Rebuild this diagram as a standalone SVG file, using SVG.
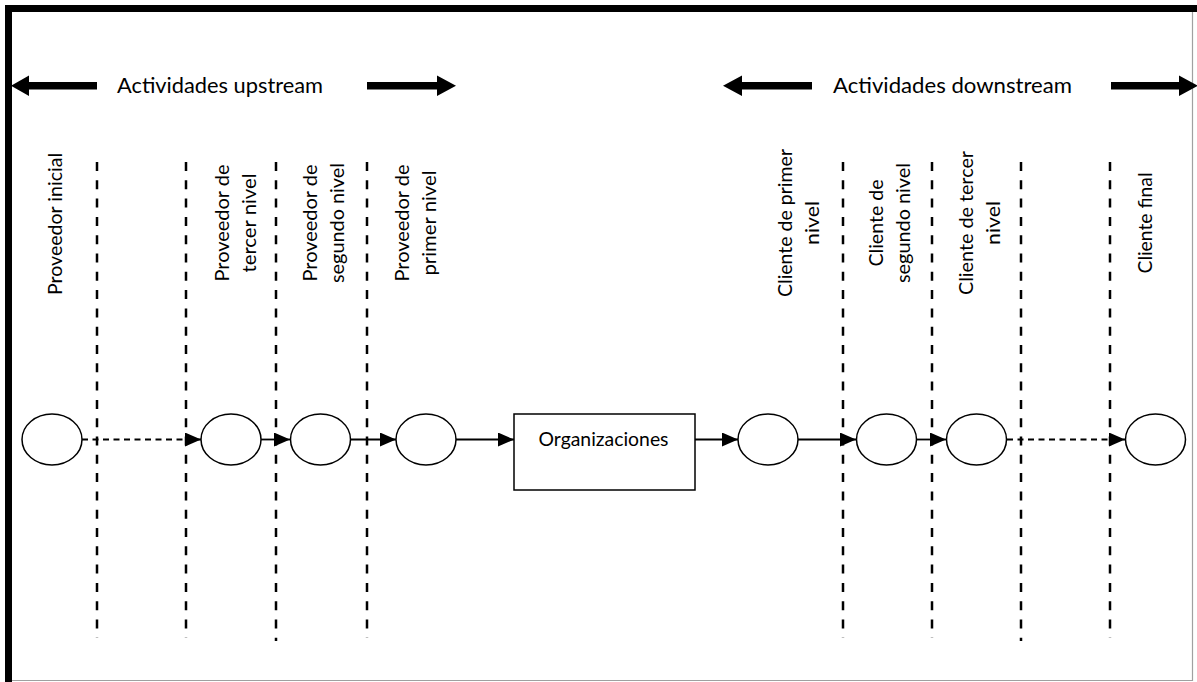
<svg xmlns="http://www.w3.org/2000/svg" width="1197" height="682" viewBox="0 0 1197 682">
  <style>
    .lbl { font-family: Lato, "Liberation Sans", sans-serif; font-size: 20px; fill: #000; }
    .hdr { font-family: Lato, "Liberation Sans", sans-serif; font-size: 22px; fill: #000; }
    .divider { stroke: #000; stroke-width: 2.5; stroke-dasharray: 9 9.3; fill: none; }
    .node { fill: #fff; stroke: #000; stroke-width: 1.5; }
    .link { stroke: #000; stroke-width: 1.8; fill: none; marker-end: url(#tip); }
    .link.dashed { stroke-dasharray: 6 4.5; }
    .block { fill: #000; }
  </style>
  <defs>
    <marker id="tip" markerUnits="userSpaceOnUse" markerWidth="16" markerHeight="14" refX="16" refY="7" orient="auto">
      <path d="M0,0 L16,7 L0,14 z" fill="#000"/>
    </marker>
  </defs>

  <rect x="0" y="0" width="1197" height="682" fill="#fff"/>

  <!-- frame: heavy top/left edges, light right/bottom edges -->
  <g id="frame">
    <path d="M1192.5,12 V680.5 H12" fill="none" stroke="#a0a0a0" stroke-width="1.2"/>
    <path d="M8.5,682 V8.5 H1197" fill="none" stroke="#000" stroke-width="7"/>
  </g>

  <!-- section headers with block arrows -->
  <g id="upstream-header">
    <polygon class="block" points="11,85.75 29,75.5 29,82 97,82 97,89.5 29,89.5 29,96"/>
    <polygon class="block" points="367,82 437,82 437,75.5 456,85.75 437,96 437,89.5 367,89.5"/>
    <text class="hdr" x="117" y="93" textLength="206" lengthAdjust="spacingAndGlyphs">Actividades upstream</text>
  </g>
  <g id="downstream-header">
    <polygon class="block" points="723,85.75 742,75.5 742,82 812,82 812,89.5 742,89.5 742,96"/>
    <polygon class="block" points="1111,82 1179,82 1179,75.5 1198,85.75 1179,96 1179,89.5 1111,89.5"/>
    <text class="hdr" x="833" y="93" textLength="239" lengthAdjust="spacingAndGlyphs">Actividades downstream</text>
  </g>

  <!-- tier dividers -->
  <g id="dividers">
    <line class="divider" x1="97" y1="162" x2="97" y2="638"/>
    <line class="divider" x1="186" y1="162" x2="186" y2="638"/>
    <line class="divider" x1="276" y1="162" x2="276" y2="641"/>
    <line class="divider" x1="367" y1="162" x2="367" y2="638"/>
    <line class="divider" x1="843" y1="162" x2="843" y2="638"/>
    <line class="divider" x1="932" y1="162" x2="932" y2="638"/>
    <line class="divider" x1="1021" y1="162" x2="1021" y2="641"/>
    <line class="divider" x1="1110" y1="162" x2="1110" y2="638"/>
  </g>

  <!-- tier labels (rotated) -->
  <g id="tier-labels" text-anchor="middle">
    <text class="lbl" transform="translate(62,224) rotate(-90)" textLength="142" lengthAdjust="spacingAndGlyphs">Proveedor inicial</text>
    <text class="lbl" transform="translate(229,223) rotate(-90)"><tspan x="0" y="0" textLength="117" lengthAdjust="spacingAndGlyphs">Proveedor de</tspan><tspan x="0" y="27" textLength="99" lengthAdjust="spacingAndGlyphs">tercer nivel</tspan></text>
    <text class="lbl" transform="translate(317,223) rotate(-90)"><tspan x="0" y="0" textLength="117" lengthAdjust="spacingAndGlyphs">Proveedor de</tspan><tspan x="0" y="27" textLength="120" lengthAdjust="spacingAndGlyphs">segundo nivel</tspan></text>
    <text class="lbl" transform="translate(409,223) rotate(-90)"><tspan x="0" y="0" textLength="117" lengthAdjust="spacingAndGlyphs">Proveedor de</tspan><tspan x="0" y="27" textLength="105" lengthAdjust="spacingAndGlyphs">primer nivel</tspan></text>
    <text class="lbl" transform="translate(792,223) rotate(-90)"><tspan x="0" y="0" textLength="148" lengthAdjust="spacingAndGlyphs">Cliente de primer</tspan><tspan x="0" y="27" textLength="44" lengthAdjust="spacingAndGlyphs">nivel</tspan></text>
    <text class="lbl" transform="translate(883,223) rotate(-90)"><tspan x="0" y="0" textLength="87" lengthAdjust="spacingAndGlyphs">Cliente de</tspan><tspan x="0" y="27" textLength="120" lengthAdjust="spacingAndGlyphs">segundo nivel</tspan></text>
    <text class="lbl" transform="translate(973,223) rotate(-90)"><tspan x="0" y="0" textLength="144" lengthAdjust="spacingAndGlyphs">Cliente de tercer</tspan><tspan x="0" y="27" textLength="44" lengthAdjust="spacingAndGlyphs">nivel</tspan></text>
    <text class="lbl" transform="translate(1152,223) rotate(-90)" textLength="101" lengthAdjust="spacingAndGlyphs">Cliente final</text>
  </g>

  <!-- flow connectors -->
  <g id="connectors">
    <path class="link dashed" d="M82,439.5 H201"/>
    <path class="link" d="M261,439.5 H290"/>
    <path class="link" d="M351,439.5 H396"/>
    <path class="link" d="M456,439.5 H514"/>
    <path class="link" d="M695,439.5 H738"/>
    <path class="link" d="M798,439.5 H856"/>
    <path class="link" d="M917,439.5 H946"/>
    <path class="link dashed" d="M1007,439.5 H1125"/>
  </g>

  <!-- nodes -->
  <g id="proveedor-inicial"><ellipse class="node" cx="52" cy="439.5" rx="30" ry="25.5"/></g>
  <g id="proveedor-tercer"><ellipse class="node" cx="231" cy="439.5" rx="30" ry="25.5"/></g>
  <g id="proveedor-segundo"><ellipse class="node" cx="320.5" cy="439.5" rx="30" ry="25.5"/></g>
  <g id="proveedor-primer"><ellipse class="node" cx="426" cy="439.5" rx="30" ry="25.5"/></g>
  <g id="organizaciones">
    <rect class="node" x="514" y="414" width="181" height="76"/>
    <text class="lbl" x="603.5" y="446" text-anchor="middle" textLength="130" lengthAdjust="spacingAndGlyphs">Organizaciones</text>
  </g>
  <g id="cliente-primer"><ellipse class="node" cx="768" cy="439.5" rx="30" ry="25.5"/></g>
  <g id="cliente-segundo"><ellipse class="node" cx="886.5" cy="439.5" rx="30" ry="25.5"/></g>
  <g id="cliente-tercer"><ellipse class="node" cx="976.5" cy="439.5" rx="30" ry="25.5"/></g>
  <g id="cliente-final"><ellipse class="node" cx="1155.5" cy="439.5" rx="30" ry="25.5"/></g>
</svg>
